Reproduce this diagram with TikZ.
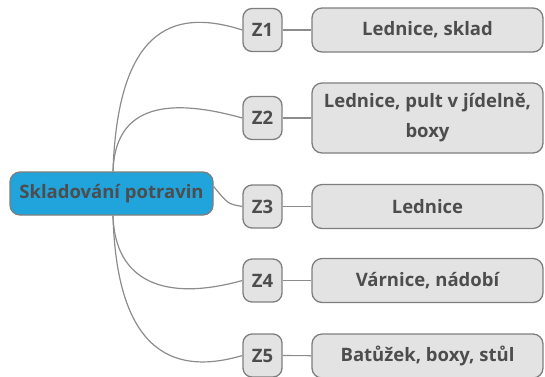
\documentclass[tikz,border=0pt]{standalone}
\usepackage{fontspec}
\setmainfont{Open Sans}
\definecolor{rootfill}{HTML}{21A4DC}
\definecolor{boxfill}{HTML}{E3E3E3}
\definecolor{boxline}{HTML}{7E7E7E}
\definecolor{txt}{HTML}{4D4D4D}
\definecolor{conn}{HTML}{8C8C8C}
\begin{document}
\begin{tikzpicture}[x=1pt,y=-1pt,
  rootbox/.style={draw=boxline,line width=1.3pt,fill=rootfill,rounded corners=10pt,minimum width=203pt,minimum height=43pt,inner sep=0pt,font=\bfseries\fontsize{18.5}{22}\selectfont,text=txt},
  zbox/.style={draw=boxline,line width=1.3pt,fill=boxfill,rounded corners=9pt,minimum width=39pt,minimum height=43pt,inner sep=0pt,font=\bfseries\fontsize{18.5}{22}\selectfont,text=txt},
  dbox/.style={draw=boxline,line width=1.3pt,fill=boxfill,rounded corners=10pt,minimum width=231pt,minimum height=44pt,inner sep=0pt,align=center,font=\bfseries\fontsize{18.5}{30}\selectfont,text=txt},
  link/.style={draw=conn,line width=1.2pt}]
\useasboundingbox (0,0) rectangle (545,376);
\node[rootbox] (root) at (111.5,193.5) {Skladování potravin};
\node[zbox] (z1) at (262.5,30) {Z1};
\node[zbox] (z2) at (262.5,118) {Z2};
\node[zbox] (z3) at (262.5,206.5) {Z3};
\node[zbox] (z4) at (262.5,280.5) {Z4};
\node[zbox] (z5) at (262.5,355.5) {Z5};
\node[dbox] (d1) at (427.5,30) {Lednice, sklad};
\node[dbox,minimum height=70pt] (d2) at (427.5,118) {Lednice, pult v jídelně,\\boxy};
\node[dbox] (d3) at (427.5,206.5) {Lednice};
\node[dbox] (d4) at (427.5,280.5) {Várnice, nádobí};
\node[dbox] (d5) at (427.5,356) {Batůžek, boxy, stůl};
\coordinate (rt) at ([xshift=1.5pt]root.north);
\coordinate (rb) at ([xshift=1.5pt]root.south);
\begin{scope}[on background layer/.try]
\draw[link] (rt) .. controls (118,20) and (180,10) .. (z1.west);
\draw[link] (rt) .. controls (115,110) and (160,95) .. (z2.west);
\draw[link] ([yshift=7pt]root.east) .. controls (228,204) .. (z3.west);
\draw[link] (rb) .. controls (115,282) and (165,302) .. (z4.west);
\draw[link] (rb) .. controls (117,360) and (180,374) .. (z5.west);
\draw[link] (z1) -- (d1);
\draw[link] (z2) -- (d2);
\draw[link] (z3) -- (d3);
\draw[link] (z4) -- (d4);
\draw[link] (z5) -- (d5);
\end{scope}
\end{tikzpicture}
\end{document}
